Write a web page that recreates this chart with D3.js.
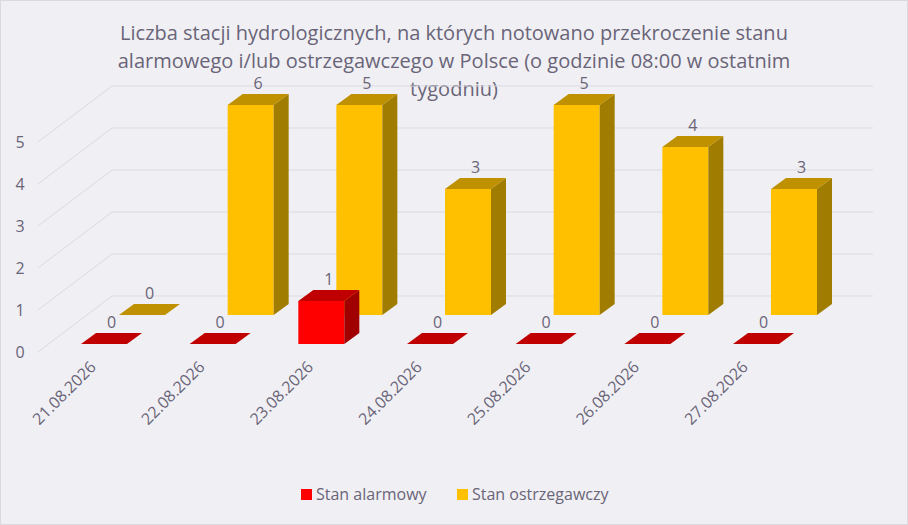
<!DOCTYPE html>
<html><head><meta charset="utf-8">
<script src="https://cdn.jsdelivr.net/npm/d3@7"></script>
<style>body{margin:0;background:#fff}text{font-family:"Open Sans","Noto Sans",sans-serif;fill:#6a6478}</style>
</head><body><div id="svg"></div>
<script>
// dane
const dni = ["21.08.2026","22.08.2026","23.08.2026","24.08.2026","25.08.2026","26.08.2026","27.08.2026"];
const alarmowy = [0,0,1,0,0,0,0];
const ostrzegawczy = [0,6,5,3,5,4,3];
const ticks = [0,1,2,3,4,5];

const width = 908, height = 525;
const svg = d3.select("#svg").append("svg").attr("width", width).attr("height", height);
svg.append("rect").attr("x",0.5).attr("y",0.5).attr("width",width-1).attr("height",height-1)
  .attr("fill","#f0f0f4").attr("stroke","#d9d9de");

// tytuł
["Liczba stacji hydrologicznych, na których notowano przekroczenie stanu",
 "alarmowego i/lub ostrzegawczego w Polsce (o godzinie 08:00 w ostatnim",
 "tygodniu)"].forEach((t,i) => svg.append("text").attr("x",454).attr("y",40+i*28)
   .attr("text-anchor","middle").style("font-size","20px").text(t));

// skale
const dx = 74, dy = -56;           // głębia ściany
const yFront = d3.scaleLinear().domain([0,5]).range([352,142]);
const x = d3.scalePoint().domain(dni).range([81,733]);
const grid = svg.append("g").attr("stroke","#d9d9e0").attr("fill","none");
ticks.forEach(v => {
  const yb = yFront(v) + dy;
  grid.append("line").attr("x1",38).attr("y1",yFront(v)).attr("x2",38+dx).attr("y2",yb);
  grid.append("line").attr("x1",38+dx).attr("y1",yb).attr("x2",873).attr("y2",yb);
  svg.append("text").attr("x",20).attr("y",yFront(v)+6).attr("text-anchor","middle")
    .style("font-size","16px").text(v);
});

const bw = 46, ddx = 15, ddy = -11;
const yA = d3.scaleLinear().domain([0,1]).range([344,301]);
const yO = d3.scaleLinear().domain([0,1]).range([315,273]);

function box(g, x0, base, top, c, val) {
  const w = bw;
  if (base - top > 0.5) {
    g.append("rect").attr("x",x0).attr("y",top).attr("width",w).attr("height",base-top).attr("fill",c[0]);
    g.append("path").attr("d",`M${x0+w},${base}L${x0+w+ddx},${base+ddy}L${x0+w+ddx},${top+ddy}L${x0+w},${top}Z`).attr("fill",c[1]);
  }
  g.append("path").attr("d",`M${x0},${top}L${x0+ddx},${top+ddy}L${x0+w+ddx},${top+ddy}L${x0+w},${top}Z`).attr("fill",c[2]);
  g.append("text").attr("x",x0+w/2+ddx/2).attr("y",top+ddy-5).attr("text-anchor","middle")
    .style("font-size","16px").text(val);
}

const gO = svg.append("g"), gA = svg.append("g");
dni.forEach((d,i) => {
  const v = ostrzegawczy[i];
  box(gO, x(d)+38, yO(0), yO(Math.min(v,5)), ["#ffc000","#a07c00","#bf9000"], v);
  box(gA, x(d), yA(0), yA(alarmowy[i]), ["#ff0000","#a00000","#c00000"], alarmowy[i]);
});

// etykiety osi
dni.forEach(d => {
  svg.append("text").attr("transform",`translate(${x(d)+16},368) rotate(-45)`)
    .attr("text-anchor","end").style("font-size","16px").text(d);
});

// legenda
const leg = [["Stan alarmowy","#ff0000",301],["Stan ostrzegawczy","#ffc000",457]];
leg.forEach(l => {
  svg.append("rect").attr("x",l[2]).attr("y",489).attr("width",11).attr("height",11).attr("fill",l[1]);
  svg.append("text").attr("x",l[2]+15).attr("y",500).style("font-size","16px").text(l[0]);
});
</script></body></html>
